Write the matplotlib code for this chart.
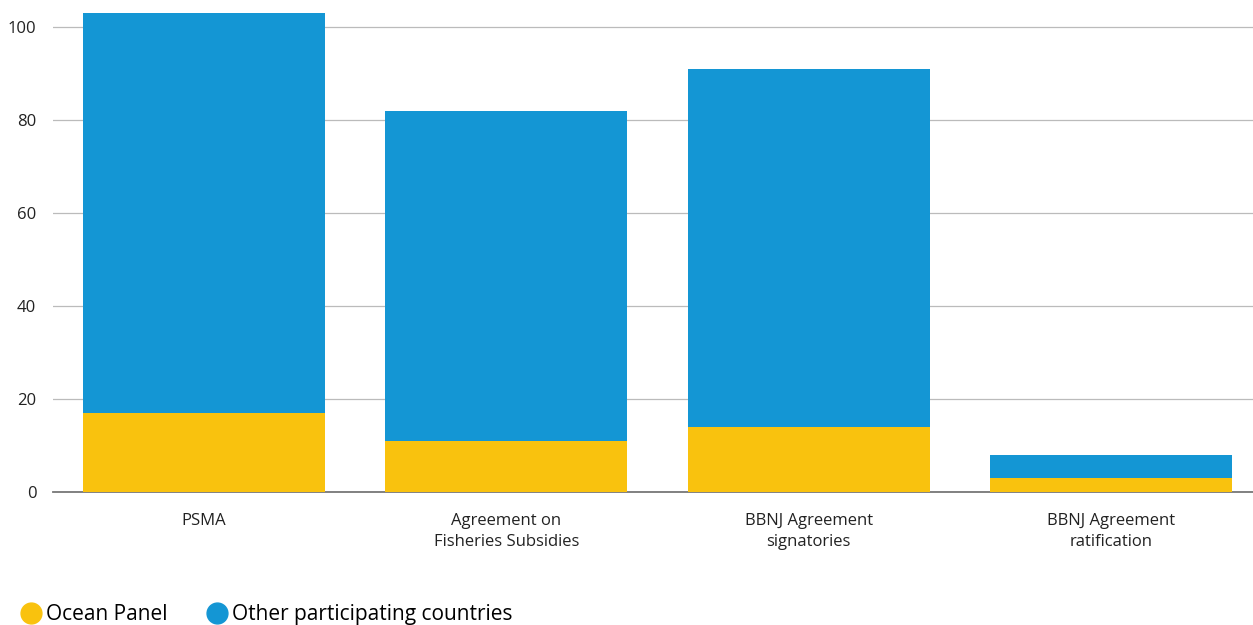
import numpy as np
import matplotlib.pyplot as plt
from matplotlib.lines import Line2D

categories = ["PSMA", "Agreement on\nFisheries Subsidies", "BBNJ Agreement\nsignatories", "BBNJ Agreement\nratification"]
ocean_panel = [17, 11, 14, 3]
totals = [103, 82, 91, 8]
other = [t - o for t, o in zip(totals, ocean_panel)]

yellow = "#f9c20e"
blue = "#1496d4"

plt.rcParams['font.family'] = ['Open Sans', 'DejaVu Sans']

fig = plt.figure(figsize=(12.53, 6.25), dpi=100)
ax = fig.add_axes([53/1253, 133.3/625, 1200/1253, 491.7/625])

x = np.arange(len(categories))
ax.bar(x, ocean_panel, width=0.8, color=yellow, zorder=3)
ax.bar(x, other, bottom=ocean_panel, width=0.8, color=blue, zorder=3)

ax.set_xlim(-0.5, 3.47)
ax.set_ylim(0, 105.8)
ax.set_yticks([0, 20, 40, 60, 80, 100])
ax.yaxis.grid(True, color="#bbbbbb", linewidth=0.9, zorder=0)
ax.set_xticks(x)
ax.set_xticklabels(categories, fontsize=12, color="#222222", linespacing=1.4)
ax.tick_params(axis="both", length=0, labelsize=12, colors="#222222")
ax.tick_params(axis="x", pad=15.5)
ax.tick_params(axis="y", pad=12)
for s in ["top", "right", "left"]:
    ax.spines[s].set_visible(False)
ax.spines["bottom"].set_color("#777777")
ax.spines["bottom"].set_linewidth(1.3)

handles = [Line2D([], [], marker="o", linestyle="", markersize=15, color=yellow, label="Ocean Panel"),
           Line2D([], [], marker="o", linestyle="", markersize=15, color=blue, label="Other participating countries")]
fig.legend(handles=handles, loc="lower left", bbox_to_anchor=(0.0, -0.03), ncol=2, frameon=False,
           fontsize=15, handletextpad=0.1, columnspacing=1.8, handlelength=1.2)

fig.savefig("out.png", dpi=100)
